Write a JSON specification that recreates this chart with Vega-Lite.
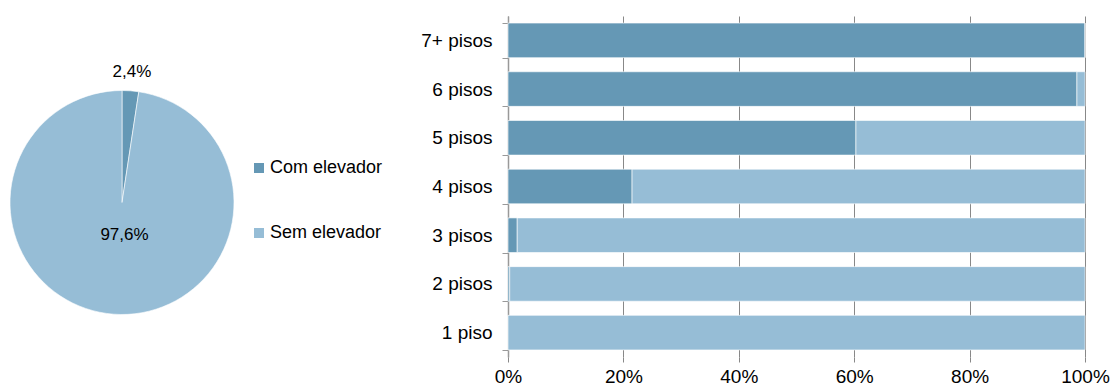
{
  "$schema": "https://vega.github.io/schema/vega-lite/v6.json",
  "padding": {"left": 8, "top": 7, "right": 30, "bottom": 5},
  "background": "white",
  "bounds": "flush",
  "spacing": 274,
  "config": {
    "font": "Liberation Sans",
    "view": {"stroke": null},
    "axis": {"labelFont": "Liberation Sans", "labelColor": "#000000"},
    "legend": {"labelFont": "Liberation Sans"}
  },
  "hconcat": [
    {
      "width": 224,
      "height": 341,
      "data": {"values": [
        {"cat": "Com elevador", "value": 2.4, "label": "2,4%"},
        {"cat": "Sem elevador", "value": 97.6, "label": "97,6%"}
      ]},
      "encoding": {
        "theta": {"field": "value", "type": "quantitative", "stack": true},
        "order": {"field": "cat", "type": "nominal", "sort": "ascending"}
      },
      "layer": [
        {
          "mark": {"type": "arc", "outerRadius": 112, "yOffset": 16, "stroke": "#ffffff", "strokeWidth": 0.6},
          "encoding": {
            "color": {
              "field": "cat", "type": "nominal",
              "scale": {"domain": ["Com elevador", "Sem elevador"], "range": ["#6598B5", "#96BDD6"]},
              "legend": {
                "title": null, "orient": "none", "legendX": 240, "legendY": 143,
                "symbolType": "square", "symbolSize": 100, "symbolStrokeWidth": 0,
                "labelFontSize": 18, "rowPadding": 47, "labelOffset": 2, "labelColor": "#000000"
              }
            }
          }
        },
        {
          "mark": {"type": "text", "yOffset": 16, "fontSize": 17, "color": "#000000"},
          "encoding": {
            "text": {"field": "label", "type": "nominal"},
            "radius": {
              "field": "cat", "type": "nominal",
              "scale": {"type": "ordinal", "domain": ["Com elevador", "Sem elevador"], "range": [131, 33]},
              "legend": null
            }
          }
        }
      ]
    },
    {
      "width": 577,
      "height": 341,
      "data": {"values": [
        {"pisos": "7+ pisos", "cat": "Com elevador", "value": 1.0},
        {"pisos": "7+ pisos", "cat": "Sem elevador", "value": 0.0},
        {"pisos": "6 pisos", "cat": "Com elevador", "value": 0.986},
        {"pisos": "6 pisos", "cat": "Sem elevador", "value": 0.014},
        {"pisos": "5 pisos", "cat": "Com elevador", "value": 0.603},
        {"pisos": "5 pisos", "cat": "Sem elevador", "value": 0.397},
        {"pisos": "4 pisos", "cat": "Com elevador", "value": 0.215},
        {"pisos": "4 pisos", "cat": "Sem elevador", "value": 0.785},
        {"pisos": "3 pisos", "cat": "Com elevador", "value": 0.016},
        {"pisos": "3 pisos", "cat": "Sem elevador", "value": 0.984},
        {"pisos": "2 pisos", "cat": "Com elevador", "value": 0.003},
        {"pisos": "2 pisos", "cat": "Sem elevador", "value": 0.997},
        {"pisos": "1 piso", "cat": "Com elevador", "value": 0.0},
        {"pisos": "1 piso", "cat": "Sem elevador", "value": 1.0}
      ]},
      "mark": {"type": "bar", "stroke": "#ffffff", "strokeOpacity": 0.6, "strokeWidth": 1},
      "encoding": {
        "y": {
          "field": "pisos", "type": "nominal",
          "sort": ["7+ pisos", "6 pisos", "5 pisos", "4 pisos", "3 pisos", "2 pisos", "1 piso"],
          "scale": {"paddingInner": 0.29, "paddingOuter": 0.145},
          "axis": {
            "title": null, "grid": false, "tickBand": "extent",
            "domainColor": "#999999", "domainWidth": 1.5, "tickColor": "#999999", "tickSize": 6,
            "labelFontSize": 19, "labelPadding": 10
          }
        },
        "x": {
          "field": "value", "type": "quantitative", "stack": "zero",
          "scale": {"domain": [0, 1]},
          "axis": {
            "title": null, "format": ".0%", "values": [0, 0.2, 0.4, 0.6, 0.8, 1.0],
            "grid": true, "gridColor": "#888888", "gridWidth": 1,
            "domain": false, "ticks": true, "tickColor": "#888888", "tickSize": 5,
            "labelFontSize": 19, "labelPadding": 5, "labelFlush": false
          }
        },
        "color": {
          "field": "cat", "type": "nominal",
          "scale": {"domain": ["Com elevador", "Sem elevador"], "range": ["#6598B5", "#96BDD6"]},
          "legend": null
        },
        "order": {"field": "cat", "type": "nominal", "sort": "ascending"}
      }
    }
  ]
}
